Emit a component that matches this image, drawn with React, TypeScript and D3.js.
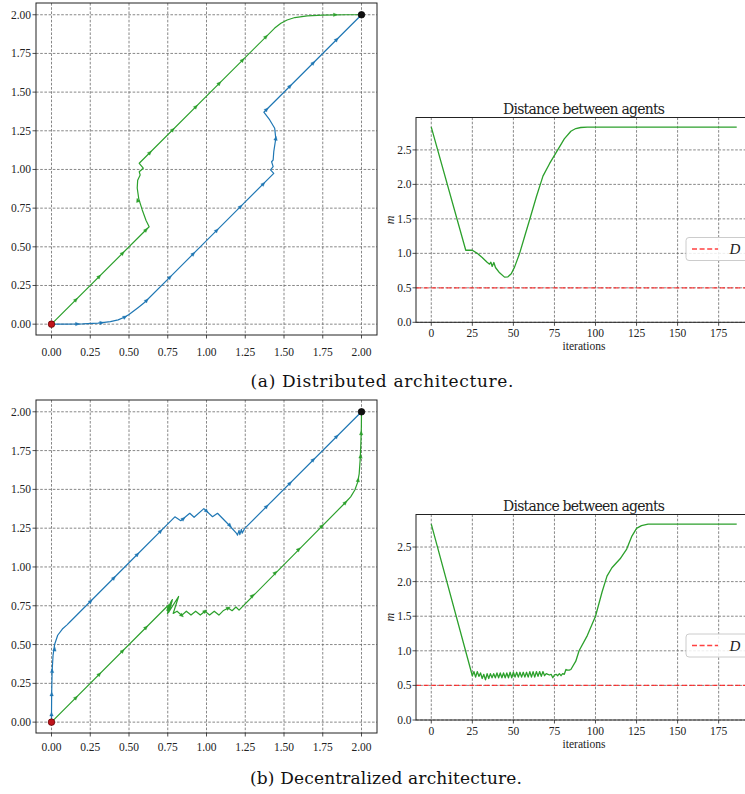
import React from 'react';
import * as d3 from 'd3';

const W = 745;
const H = 794;

// ---------- tick values ----------
const trajTicks = [0, 0.25, 0.5, 0.75, 1, 1.25, 1.5, 1.75, 2];
const iterTicks = [0, 25, 50, 75, 100, 125, 150, 175];
const distTicks = [0, 0.5, 1, 1.5, 2, 2.5];
const safeDistance = 0.5;
const startPoint: [number, number] = [0, 0];
const goalPoint: [number, number] = [2, 2];

// ---------- (a) distributed architecture ----------
const aBluePath: [number, number][] = [
  [0, 0], [0.1, 0.0], [0.2, 0.002], [0.3, 0.007], [0.38, 0.016], [0.43, 0.028], [0.47, 0.045],
  [0.5, 0.062], [0.53, 0.085], [0.56, 0.108], [0.6, 0.14], [0.8, 0.34], [1.0, 0.54], [1.2, 0.74],
  [1.434, 0.975], [1.413, 0.997], [1.43, 1.018], [1.42, 1.05], [1.43, 1.061], [1.434, 1.115],
  [1.447, 1.2], [1.44, 1.266], [1.408, 1.32], [1.37, 1.37], [2, 2],
];
const aBlueMarks: [number, number][] = [
  [0.166, 0.001], [0.323, 0.009], [0.473, 0.046], [0.613, 0.153], [0.763, 0.303], [0.914, 0.454],
  [1.065, 0.605], [1.219, 0.759], [1.366, 0.906], [1.447, 1.2], [1.387, 1.387], [1.538, 1.538],
  [1.688, 1.688], [1.839, 1.839],
];
const aGreenPath: [number, number][] = [
  [0, 0], [0.63, 0.63], [0.61, 0.67], [0.585, 0.74], [0.563, 0.81], [0.553, 0.88], [0.556, 0.93],
  [0.572, 0.965], [0.566, 0.985], [0.592, 1.008], [0.566, 1.04], [1.0, 1.474], [1.44, 1.914],
  [1.48, 1.945], [1.52, 1.966], [1.57, 1.982], [1.65, 1.993], [1.75, 1.998], [1.9, 2.0], [2, 2],
];
const aGreenMarks: [number, number][] = [
  [0.157, 0.157], [0.307, 0.307], [0.458, 0.458], [0.609, 0.609], [0.556, 0.8], [0.634, 1.108],
  [0.782, 1.256], [0.931, 1.405], [1.082, 1.556], [1.232, 1.706], [1.383, 1.857], [1.83, 2.0],
];
const aDistIter = [0, 21, 25, 28, 31, 34, 35.5, 36.3, 37.1, 38.1, 39.1, 41.6, 44.6, 46.7, 48.7,
  50.7, 53.8, 56.8, 59.8, 64, 68, 72, 76, 81, 85, 88, 91, 95, 100, 186];
const aDistVal = [2.83, 1.045, 1.045, 1.0, 0.94, 0.87, 0.843, 0.872, 0.81, 0.867, 0.795, 0.718,
  0.655, 0.66, 0.705, 0.8, 1.0, 1.24, 1.48, 1.82, 2.12, 2.3, 2.46, 2.66, 2.77, 2.81, 2.825, 2.83,
  2.83, 2.83];

// ---------- (b) decentralized architecture ----------
const bBluePath: [number, number][] = [
  [0, 0], [0, 0.05], [0.001, 0.18], [0.004, 0.33], [0.01, 0.43], [0.02, 0.5], [0.04, 0.56],
  [0.07, 0.6], [0.1, 0.627], [0.12, 0.647], [0.5, 1.027], [0.796, 1.323], [0.834, 1.298],
  [0.892, 1.346], [0.92, 1.32], [0.983, 1.376], [1.039, 1.324], [1.071, 1.346], [1.139, 1.277],
  [1.194, 1.217], [1.2, 1.205], [1.21, 1.236], [1.215, 1.208], [1.225, 1.242], [1.23, 1.218],
  [1.247, 1.249], [2, 2],
];
const bBlueMarks: [number, number][] = [
  [0, 0.05], [0.001, 0.18], [0.004, 0.33], [0.02, 0.47], [0.252, 0.779], [0.402, 0.929],
  [0.553, 1.08], [0.703, 1.23], [0.85, 1.31], [1.0, 1.36], [1.15, 1.268], [1.387, 1.389],
  [1.538, 1.539], [1.688, 1.69], [1.839, 1.84],
];
const bGreenPath: [number, number][] = [
  [0, 0], [0.755, 0.755], [0.745, 0.72], [0.77, 0.775], [0.748, 0.7], [0.775, 0.785],
  [0.752, 0.71], [0.78, 0.79], [0.755, 0.705], [0.772, 0.77], [0.75, 0.725], [0.778, 0.78],
  [0.758, 0.712], [0.82, 0.81], [0.785, 0.7], [0.81, 0.715], [0.84, 0.688],
  [0.87, 0.715], [0.9, 0.69], [0.93, 0.715], [0.96, 0.69], [0.99, 0.715], [1.02, 0.69],
  [1.05, 0.715], [1.08, 0.69], [1.11, 0.72], [1.14, 0.735], [1.165, 0.718], [1.19, 0.742],
  [1.21, 0.722], [1.895, 1.414], [1.93, 1.452], [1.957, 1.496], [1.975, 1.545], [1.985, 1.6],
  [1.992, 1.7], [1.996, 1.8], [1.999, 1.9], [2, 2],
];
const bGreenMarks: [number, number][] = [
  [0.157, 0.157], [0.308, 0.308], [0.458, 0.458], [0.609, 0.609], [0.84, 0.688], [0.99, 0.715],
  [1.14, 0.735], [1.295, 0.814], [1.443, 0.962], [1.594, 1.113], [1.744, 1.263], [1.895, 1.414],
  [1.978, 1.56], [1.994, 1.712], [1.998, 1.862],
];
const bDistIter = [0, 25, 26, 27, 28, 29, 30, 31, 32, 33, 34, 35, 36, 37, 38, 39, 40, 41, 42, 43,
  44, 45, 46, 47, 48, 49, 50, 51, 52, 53, 54, 55, 56, 57, 58, 59, 60, 61, 62, 63, 64, 65, 66, 67,
  68, 69, 70, 71, 72, 73, 74, 75, 76, 77, 78, 79, 80, 81, 82, 83, 84, 85, 88, 90, 95, 100, 104,
  107, 110, 115, 119, 122, 125, 128, 132, 186];
const bDistVal = [2.83, 0.64, 0.7, 0.62, 0.7, 0.63, 0.68, 0.6, 0.66, 0.58, 0.67, 0.6, 0.67, 0.61,
  0.67, 0.61, 0.68, 0.61, 0.68, 0.61, 0.68, 0.61, 0.68, 0.61, 0.69, 0.61, 0.69, 0.62, 0.69, 0.62,
  0.69, 0.62, 0.69, 0.62, 0.69, 0.62, 0.7, 0.62, 0.7, 0.62, 0.7, 0.63, 0.7, 0.63, 0.7, 0.64,
  0.67, 0.66, 0.65, 0.66, 0.61, 0.65, 0.66, 0.64, 0.67, 0.64, 0.67, 0.66, 0.73, 0.72, 0.72, 0.73,
  0.85, 1.0, 1.22, 1.5, 1.85, 2.08, 2.2, 2.33, 2.47, 2.65, 2.77, 2.81, 2.83, 2.83];

// ---------- style ----------
const BLUE = '#1f77b4';
const GREEN = '#2ca02c';
const TICK_FONT = 'Liberation Serif';
const TEXT_FONT = 'DejaVu Serif';
const GRID = { stroke: '#6a6a6a', strokeWidth: 0.8, strokeDasharray: '2.6,1.6' };

type Frame = { x0: number; x1: number; y0: number; y1: number; labelOff: number };

function Marker({ p, path, x, y, color }: any) {
  let best = Infinity;
  let ang = 0;
  for (let i = 0; i < path.length - 1; i++) {
    const ax = x(path[i][0]), ay = y(path[i][1]);
    const bx = x(path[i + 1][0]), by = y(path[i + 1][1]);
    const px = x(p[0]), py = y(p[1]);
    const dx = bx - ax, dy = by - ay;
    const L = dx * dx + dy * dy || 1;
    let t = ((px - ax) * dx + (py - ay) * dy) / L;
    t = Math.max(0, Math.min(1, t));
    const qx = ax + t * dx, qy = ay + t * dy;
    const d = (qx - px) ** 2 + (qy - py) ** 2;
    if (d < best && L > 0.01) {
      best = d;
      ang = (Math.atan2(dy, dx) * 180) / Math.PI;
    }
  }
  return (
    <path
      d="M2.3,0 L-1.7,1.8 L-1.7,-1.8 Z"
      fill={color}
      stroke={color}
      strokeWidth={0.3}
      transform={`translate(${x(p[0])},${y(p[1])}) rotate(${ang})`}
    />
  );
}

const tickText = { fontFamily: TICK_FONT } as React.CSSProperties;

function TrajPanel({ f, blue, green, blueMarks, greenMarks }: any) {
  const x = d3.scaleLinear().domain([-0.1, 2.1]).range([f.x0, f.x1]);
  const y = d3.scaleLinear().domain([-0.07, 2.076]).range([f.y1, f.y0]);
  const line = d3.line<[number, number]>().x((d) => x(d[0])).y((d) => y(d[1]));
  const clipId = `clip-${f.y0}`;
  return (
    <g>
      <defs>
        <clipPath id={clipId}>
          <rect x={f.x0} y={f.y0} width={f.x1 - f.x0} height={f.y1 - f.y0} />
        </clipPath>
      </defs>
      <rect x={f.x0} y={f.y0} width={f.x1 - f.x0} height={f.y1 - f.y0} fill="white" />
      {trajTicks.map((t) => (
        <line key={'gx' + t} x1={x(t)} x2={x(t)} y1={f.y0} y2={f.y1} {...GRID} />
      ))}
      {trajTicks.map((t) => (
        <line key={'gy' + t} x1={f.x0} x2={f.x1} y1={y(t)} y2={y(t)} {...GRID} />
      ))}
      <g clipPath={`url(#${clipId})`}>
        <path d={line(blue) || ''} fill="none" stroke={BLUE} strokeWidth={1.2} strokeLinejoin="round" />
        <path d={line(green) || ''} fill="none" stroke={GREEN} strokeWidth={1.2} strokeLinejoin="round" />
        {blueMarks.map((p: any, i: number) => (
          <Marker key={'bm' + i} p={p} path={blue} x={x} y={y} color={BLUE} />
        ))}
        {greenMarks.map((p: any, i: number) => (
          <Marker key={'gm' + i} p={p} path={green} x={x} y={y} color={GREEN} />
        ))}
        <circle cx={x(startPoint[0])} cy={y(startPoint[1])} r={3.3} fill="#c0141b" stroke="#5a0000" strokeWidth={0.7} />
        <circle cx={x(goalPoint[0])} cy={y(goalPoint[1])} r={3.3} fill="#111" stroke="#000" strokeWidth={0.7} />
      </g>
      <rect x={f.x0} y={f.y0} width={f.x1 - f.x0} height={f.y1 - f.y0} fill="none" stroke="#222" strokeWidth={1} />
      {trajTicks.map((t) => (
        <g key={'tx' + t}>
          <line x1={x(t)} x2={x(t)} y1={f.y1} y2={f.y1 + 3.5} stroke="#222" strokeWidth={0.8} />
          <text x={x(t)} y={f.y1 + f.labelOff} textAnchor="middle" dominantBaseline="central" style={tickText} fontSize={11.5} fill="#222">
            {t.toFixed(2)}
          </text>
        </g>
      ))}
      {trajTicks.map((t) => (
        <g key={'ty' + t}>
          <line x1={f.x0 - 3.5} x2={f.x0} y1={y(t)} y2={y(t)} stroke="#222" strokeWidth={0.8} />
          <text x={f.x0 - 5} y={y(t)} textAnchor="end" dominantBaseline="central" style={tickText} fontSize={11.5} fill="#222">
            {t.toFixed(2)}
          </text>
        </g>
      ))}
    </g>
  );
}

function DistPanel({ f, iters, vals }: any) {
  const x = d3.scaleLinear().domain([-9.3, 195.3]).range([f.x0, f.x1]);
  const y = d3.scaleLinear().domain([0, 2.97]).range([f.y1, f.y0]);
  const pts: [number, number][] = iters.map((it: number, i: number) => [it, vals[i]]);
  const line = d3.line<[number, number]>().x((d) => x(d[0])).y((d) => y(d[1]));
  const clipId = `dclip-${f.y0}`;
  const cx = (f.x0 + f.x1) / 2;
  const lg = { x: 686, y: f.legendY, h: 23 };
  return (
    <g>
      <defs>
        <clipPath id={clipId}>
          <rect x={f.x0} y={f.y0} width={f.x1 - f.x0} height={f.y1 - f.y0} />
        </clipPath>
      </defs>
      {iterTicks.map((t) => (
        <line key={'gx' + t} x1={x(t)} x2={x(t)} y1={f.y0} y2={f.y1} {...GRID} />
      ))}
      {distTicks.map((t) => (
        <line key={'gy' + t} x1={f.x0} x2={f.x1} y1={y(t)} y2={y(t)} {...GRID} />
      ))}
      <g clipPath={`url(#${clipId})`}>
        <line x1={f.x0} x2={f.x1} y1={y(safeDistance)} y2={y(safeDistance)} stroke="#ff2020" strokeOpacity={0.85} strokeWidth={1.3} strokeDasharray="5,2.6" />
        <path d={line(pts) || ''} fill="none" stroke={GREEN} strokeWidth={1.3} strokeLinejoin="round" />
      </g>
      <rect x={f.x0} y={f.y0} width={f.x1 - f.x0} height={f.y1 - f.y0} fill="none" stroke="#222" strokeWidth={1} />
      {iterTicks.map((t) => (
        <g key={'tx' + t}>
          <line x1={x(t)} x2={x(t)} y1={f.y1} y2={f.y1 + 3.5} stroke="#222" strokeWidth={0.8} />
          <text x={x(t)} y={f.y1 + 10.5} textAnchor="middle" dominantBaseline="central" style={tickText} fontSize={11.5} fill="#222">
            {t}
          </text>
        </g>
      ))}
      {distTicks.map((t) => (
        <g key={'ty' + t}>
          <line x1={f.x0 - 3.5} x2={f.x0} y1={y(t)} y2={y(t)} stroke="#222" strokeWidth={0.8} />
          <text x={f.x0 - 4.5} y={y(t)} textAnchor="end" dominantBaseline="central" style={tickText} fontSize={11.5} fill="#222">
            {t.toFixed(1)}
          </text>
        </g>
      ))}
      <text x={cx} y={f.y0 - 4} textAnchor="middle" style={{ fontFamily: TEXT_FONT }} fontSize={14} textLength={162} fill="#222">
        Distance between agents
      </text>
      <text x={cx} y={f.y1 + 24} textAnchor="middle" dominantBaseline="central" style={tickText} fontSize={11.5} fill="#222">
        iterations
      </text>
      <text transform={`translate(${390},${(f.y0 + f.y1) / 2}) rotate(-90)`} textAnchor="middle" dominantBaseline="central" style={tickText} fontStyle="italic" fontSize={12} fill="#222">
        m
      </text>
      <g>
        <rect x={lg.x} y={lg.y} width={80} height={lg.h} rx={3} fill="white" fillOpacity={0.85} stroke="#cccccc" strokeWidth={1} />
        <line x1={692} x2={718} y1={lg.y + lg.h / 2} y2={lg.y + lg.h / 2} stroke="#ff2020" strokeOpacity={0.85} strokeWidth={1.3} strokeDasharray="5,2.6" />
        <text x={735} y={lg.y + lg.h / 2} textAnchor="middle" dominantBaseline="central" style={tickText} fontStyle="italic" fontSize={15} fill="#222">
          D
        </text>
      </g>
    </g>
  );
}

export default function App() {
  const fTL: Frame = { x0: 36, x1: 377, y0: 3, y1: 335, labelOff: 17 };
  const fBL: Frame = { x0: 36, x1: 377, y0: 400, y1: 733, labelOff: 14 };
  const fTR = { x0: 416, x1: 752, y0: 117.5, y1: 322.3, legendY: 237.5 };
  const fBR = { x0: 416, x1: 752, y0: 514.5, y1: 720, legendY: 634 };
  return (
    <svg width={W} height={H} style={{ position: 'absolute', left: 0, top: 0, display: 'block', background: 'white' }}>
      <rect x={0} y={0} width={W} height={H} fill="white" />
      <TrajPanel f={fTL} blue={aBluePath} green={aGreenPath} blueMarks={aBlueMarks} greenMarks={aGreenMarks} />
      <DistPanel f={fTR} iters={aDistIter} vals={aDistVal} />
      <text x={382} y={381} textAnchor="middle" dominantBaseline="central" style={{ fontFamily: TEXT_FONT }} fontSize={17} textLength={263} fill="#111">
        (a) Distributed architecture.
      </text>
      <TrajPanel f={fBL} blue={bBluePath} green={bGreenPath} blueMarks={bBlueMarks} greenMarks={bGreenMarks} />
      <DistPanel f={fBR} iters={bDistIter} vals={bDistVal} />
      <text x={386} y={778} textAnchor="middle" dominantBaseline="central" style={{ fontFamily: TEXT_FONT }} fontSize={17} textLength={272} fill="#111">
        (b) Decentralized architecture.
      </text>
    </svg>
  );
}
